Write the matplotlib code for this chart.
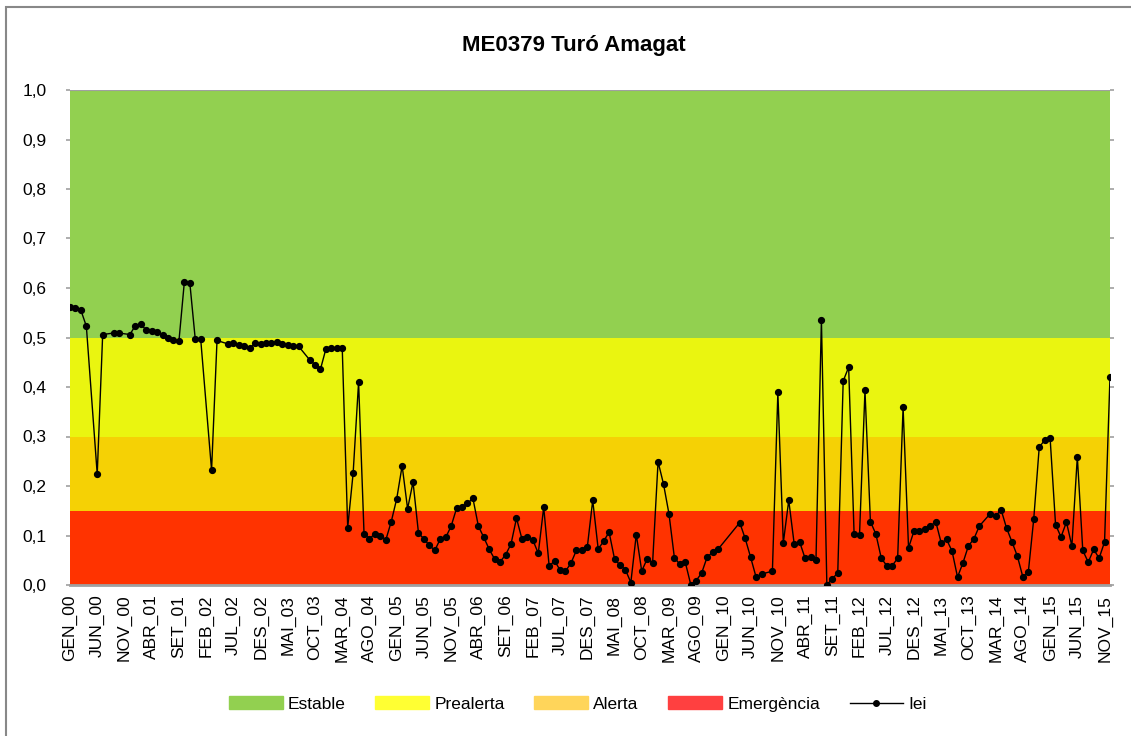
import numpy as np
import matplotlib.pyplot as plt
from matplotlib.patches import Patch, Rectangle
from matplotlib.lines import Line2D

plt.rcParams['font.family'] = ['Liberation Sans Narrow', 'Liberation Sans', 'DejaVu Sans']

mesos = ['GEN', 'FEB', 'MAR', 'ABR', 'MAI', 'JUN', 'JUL', 'AGO', 'SET', 'OCT', 'NOV', 'DES']
anys = list(range(2000, 2016))

# index Iei mensual (None = sense dada)
iei = [
    0.561, 0.559, 0.555, 0.523, None, 0.224, 0.506, None, 0.509, 0.509, None, 0.506,   # 2000
    0.524, 0.527, 0.515, 0.514, 0.512, 0.506, 0.499, 0.495, 0.492, 0.612, 0.611, 0.497,  # 2001
    0.497, None, 0.232, 0.494, None, 0.487, 0.488, 0.484, 0.483, 0.478, 0.488, 0.487,    # 2002
    0.488, 0.488, 0.491, 0.487, 0.484, 0.483, 0.482, None, 0.455, 0.445, 0.436, 0.477,   # 2003
    0.479, 0.479, 0.478, 0.116, 0.226, 0.410, 0.104, 0.093, 0.104, 0.100, 0.091, 0.128,  # 2004
    0.174, 0.241, 0.154, 0.208, 0.105, 0.093, 0.080, 0.070, 0.093, 0.096, 0.119, 0.155,  # 2005
    0.158, 0.165, 0.175, 0.119, 0.096, 0.072, 0.052, 0.047, 0.061, 0.083, 0.135, 0.093,  # 2006
    0.097, 0.091, 0.064, 0.157, 0.038, 0.049, 0.030, 0.028, 0.044, 0.070, 0.071, 0.076,  # 2007
    0.171, 0.073, 0.088, 0.107, 0.053, 0.040, 0.031, 0.005, 0.102, 0.028, 0.053, 0.045,  # 2008
    0.249, 0.204, 0.144, 0.055, 0.042, 0.046, 0.001, 0.009, 0.024, 0.056, 0.066, 0.072,  # 2009
    None, None, None, 0.126, 0.094, 0.056, 0.016, 0.022, None, 0.028, 0.389, 0.085,      # 2010
    0.171, 0.083, 0.087, 0.054, 0.056, 0.050, 0.535, 0.000, 0.013, 0.024, 0.412, 0.440,  # 2011
    0.104, 0.102, 0.393, 0.128, 0.103, 0.054, 0.039, 0.039, 0.054, 0.359, 0.075, 0.109,  # 2012
    0.109, 0.114, 0.119, 0.128, 0.085, 0.092, 0.068, 0.016, 0.045, 0.079, 0.093, 0.119,  # 2013
    None, 0.144, 0.139, 0.152, 0.115, 0.087, 0.058, 0.016, 0.026, 0.134, 0.278, 0.293,   # 2014
    0.297, 0.122, 0.097, 0.127, 0.079, 0.259, 0.070, 0.046, 0.072, 0.054, 0.087, 0.421,  # 2015
]

# llindars dels estats
llindars = [0.0, 0.15, 0.3, 0.5, 1.0]
estats = ['Emergència', 'Alerta', 'Prealerta', 'Estable']
colors_banda = ['#FF3300', '#F5D105', '#EAF510', '#92D050']
colors_llegenda = ['#FF4040', '#FFD55A', '#FFFF33', '#92D050']

etiquetes = [f"{m}_{str(a)[2:]}" for a in anys for m in mesos]
x = np.arange(len(iei))
y = np.array([np.nan if v is None else v for v in iei])
ok = ~np.isnan(y)

fig = plt.figure(figsize=(11.31, 7.36), dpi=100)
ax = fig.add_axes([70/1131, 1-585/736, 1040/1131, 495/736])

for i in range(4):
    ax.axhspan(llindars[i], llindars[i+1], color=colors_banda[i], lw=0, zorder=0)
ax.axhline(1.0, color='#A0A0A0', lw=1.5, zorder=1)

ax.plot(x[ok], y[ok], color='black', lw=1, marker='o', ms=4.2, zorder=3)

ax.set_xlim(0, len(iei) - 1)
ax.set_ylim(0, 1)
ax.set_yticks(np.arange(0, 1.01, 0.1))
ax.set_yticklabels([f"{v:.1f}".replace('.', ',') for v in np.arange(0, 1.01, 0.1)], fontsize=12.5)
ax.set_xticks(x[::5])
ax.set_xticklabels(etiquetes[::5], rotation=90, fontsize=12.5)
ax.tick_params(axis='x', length=0, pad=7)
ax.tick_params(axis='y', length=3, color='#A0A0A0', width=1.2, pad=14, right=True)

for s in ['top', 'left', 'right']:
    ax.spines[s].set_visible(False)
ax.spines['bottom'].set_color('#A0A0A0')
ax.spines['bottom'].set_linewidth(2)

fig.text(574/1131, 1-45/736, 'ME0379 Turó Amagat', ha='center', va='center',
         fontsize=16, fontweight='bold')

handles = [Patch(color=colors_llegenda[3 - i]) for i in range(4)]
handles.append(Line2D([], [], color='black', lw=1, marker='o', ms=4))
noms = estats[::-1] + ['Iei']
fig.legend(handles, noms, loc='center', bbox_to_anchor=(578/1131, 1-704/736), ncol=5,
           frameon=False, fontsize=12.5, handlelength=3.1, handleheight=0.75,
           columnspacing=1.7, handletextpad=0.3)

# vora del gràfic (només es veuen els costats esquerre i superior)
fig.add_artist(Rectangle((6/1131, -10/736), 1200/1131, 739/736, transform=fig.transFigure,
                         fill=False, edgecolor='#888888', lw=1.5))

fig.savefig('out.png', dpi=100)
